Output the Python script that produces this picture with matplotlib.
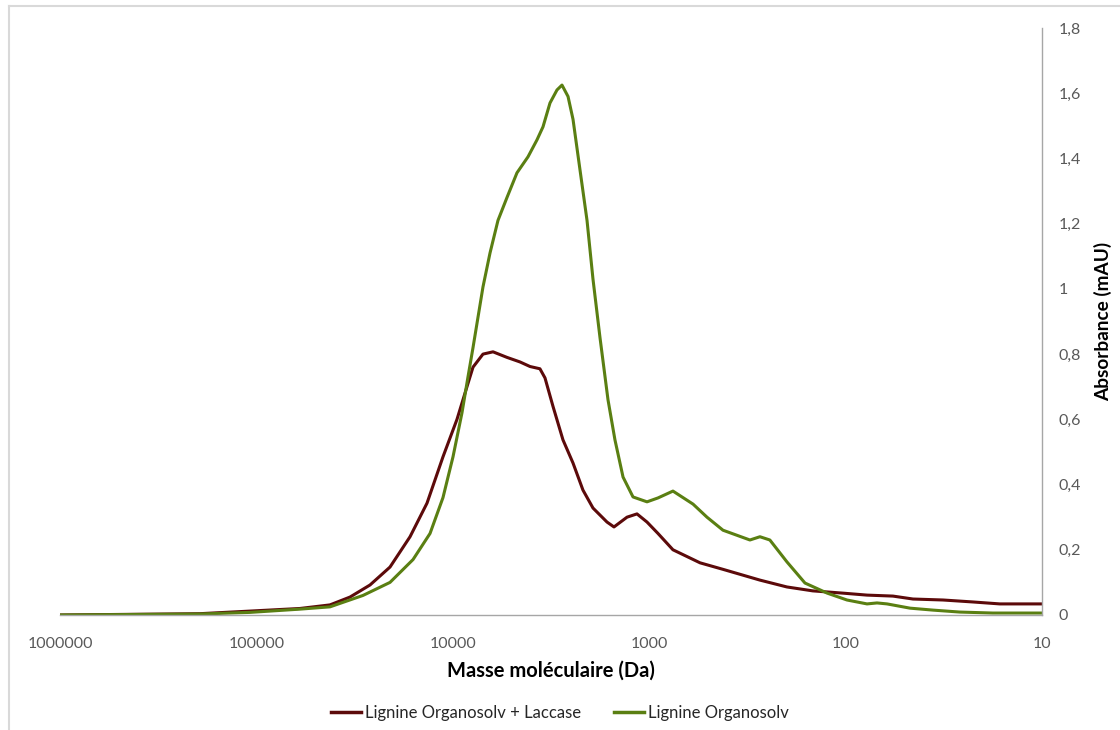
import matplotlib
matplotlib.use("Agg")
import matplotlib.pyplot as plt
from matplotlib.lines import Line2D
from matplotlib.ticker import FixedLocator, FuncFormatter, NullLocator

plt.rcParams['font.family'] = ['Lato', 'DejaVu Sans']

# Lignine Organosolv + Laccase (mass in Da, absorbance in mAU)
mass_lac = [1000000, 194000, 107800, 60000, 42200, 33380, 26400, 20880, 16510,
            13530, 11220, 9520, 8470, 7890, 7020, 6240, 5300, 4550, 4045, 3600,
            3393, 3090, 2748, 2443, 2174, 1933, 1640, 1511, 1297, 1154, 1026, 902,
            757, 551, 421, 273, 199, 147, 103, 77.8, 57.4, 45.4, 31.9, 22.5, 16.4, 10]
abs_lac = [0.0, 0.004, 0.012, 0.02, 0.031, 0.055, 0.092, 0.147, 0.24,
           0.343, 0.485, 0.60, 0.70, 0.76, 0.80, 0.807, 0.79, 0.776, 0.762, 0.755,
           0.727, 0.64, 0.537, 0.466, 0.383, 0.328, 0.285, 0.27, 0.30, 0.31, 0.285, 0.25,
           0.20, 0.16, 0.14, 0.107, 0.086, 0.074, 0.067, 0.061, 0.058, 0.049, 0.046, 0.040,
           0.034, 0.034]

# Lignine Organosolv
mass_org = [1000000, 194000, 107800, 60000, 42200, 28660, 20880, 15940, 13060,
            11220, 9977, 8980, 8370, 7890, 7020, 6465, 5888, 5300, 4712, 4141,
            3727, 3473, 3200, 2948, 2780, 2590, 2443, 2251, 2073, 1933, 1780,
            1621, 1494, 1359, 1209, 1026, 902, 757, 598, 508, 421, 307, 273, 243,
            199, 161, 124, 98.4, 77.8, 69.2, 61.5, 47.0, 35.9, 26.2, 17.8, 10]
abs_org = [0.0, 0.003, 0.008, 0.018, 0.025, 0.06, 0.10, 0.17, 0.25,
           0.36, 0.485, 0.62, 0.73, 0.82, 1.006, 1.11, 1.21, 1.28, 1.356, 1.405,
           1.457, 1.497, 1.57, 1.61, 1.625, 1.59, 1.52, 1.365, 1.21, 1.03, 0.85,
           0.66, 0.537, 0.423, 0.362, 0.347, 0.359, 0.38, 0.34, 0.30, 0.26, 0.23, 0.24, 0.23,
           0.163, 0.098, 0.067, 0.046, 0.034, 0.037, 0.034, 0.021, 0.015, 0.009, 0.006, 0.006]

x_ticks = [1000000, 100000, 10000, 1000, 100, 10]
y_ticks = [0, 0.2, 0.4, 0.6, 0.8, 1, 1.2, 1.4, 1.6, 1.8]

red = '#5c0a0a'
green = '#5a7f12'
grey_txt = '#595959'

fig = plt.figure(figsize=(11.2, 7.3), dpi=100)
ax = fig.add_axes([60 / 1120, 115 / 730, 982 / 1120, 587 / 730])

ax.plot(mass_lac, abs_lac, color=red, lw=2.2, solid_joinstyle='round')
ax.plot(mass_org, abs_org, color=green, lw=2.2, solid_joinstyle='round')

ax.set_xscale('log')
ax.set_xlim(1000000, 10)
ax.set_ylim(0, 1.8)

ax.xaxis.set_major_locator(FixedLocator(x_ticks))
ax.xaxis.set_minor_locator(NullLocator())
ax.xaxis.set_major_formatter(FuncFormatter(lambda v, p: f"{int(round(v))}"))
ax.yaxis.tick_right()
ax.yaxis.set_label_position('right')
ax.yaxis.set_major_locator(FixedLocator(y_ticks))
ax.yaxis.set_major_formatter(FuncFormatter(lambda v, p: f"{v:g}".replace('.', ',')))

ax.tick_params(axis='x', length=0, pad=16, labelsize=11.5, labelcolor=grey_txt)
ax.tick_params(axis='y', length=0, pad=12, labelsize=11.5, labelcolor=grey_txt)

for s in ['top', 'left']:
    ax.spines[s].set_visible(False)
for s in ['bottom', 'right']:
    ax.spines[s].set_color('#a6a6a6')
    ax.spines[s].set_linewidth(1.0)

ax.set_xlabel('Masse moléculaire (Da)', fontsize=14.5, fontweight='bold', labelpad=7)
ax.set_ylabel('Absorbance (mAU)', fontsize=13.7, fontweight='bold', labelpad=9)

handles = [Line2D([], [], color=red, lw=2.5), Line2D([], [], color=green, lw=2.5)]
fig.legend(handles, ['Lignine Organosolv + Laccase', 'Lignine Organosolv'],
           loc='center', bbox_to_anchor=(0.5, 17 / 730), ncol=2, frameon=False,
           fontsize=12, handlelength=1.8, handletextpad=0.25, columnspacing=2.0,
           labelcolor='#262626')

# chart area border
fig.add_artist(Line2D([9 / 1120, 9 / 1120], [0, 1 - 6 / 730], color='#d9d9d9', lw=1.5,
                      transform=fig.transFigure))
fig.add_artist(Line2D([9 / 1120, 1], [1 - 6 / 730, 1 - 6 / 730], color='#d9d9d9', lw=1.5,
                      transform=fig.transFigure))

fig.savefig('out.png', dpi=100)
